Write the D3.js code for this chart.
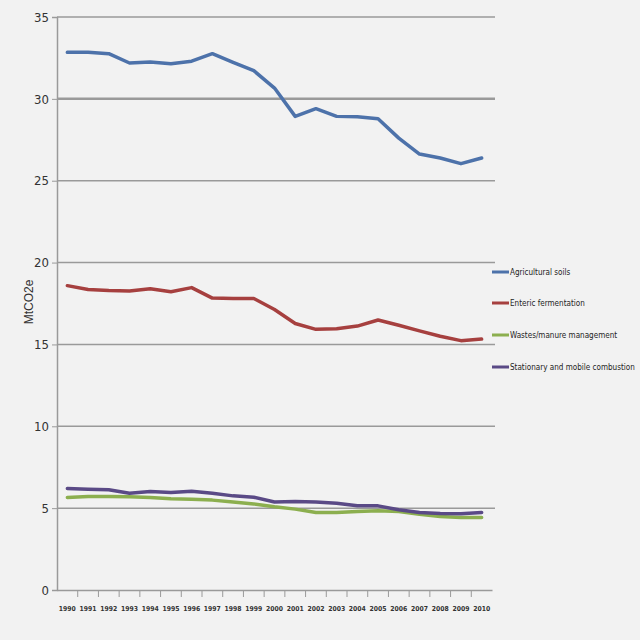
<!DOCTYPE html>
<html><head><meta charset="utf-8">
<script src="https://cdn.jsdelivr.net/npm/d3@7"></script>
<style>body{margin:0;background:#f2f2f2;}svg{display:block;}</style>
</head><body><div id="chart"></div>
<script>
const years = ["1990","1991","1992","1993","1994","1995","1996","1997","1998","1999","2000","2001","2002","2003","2004","2005","2006","2007","2008","2009","2010"];
const agriculturalSoils = [32.84,32.85,32.76,32.19,32.25,32.15,32.3,32.76,32.23,31.72,30.66,28.93,29.4,28.93,28.9,28.79,27.6,26.63,26.39,26.04,26.39];
const entericFermentation = [18.59,18.35,18.29,18.27,18.4,18.22,18.47,17.83,17.81,17.81,17.13,16.28,15.92,15.96,16.12,16.49,16.17,15.83,15.5,15.23,15.33];
const wastesManure = [5.65,5.71,5.71,5.69,5.65,5.57,5.55,5.49,5.38,5.26,5.08,4.94,4.74,4.74,4.8,4.84,4.8,4.63,4.49,4.43,4.43];
const combustion = [6.2,6.16,6.12,5.91,6.01,5.95,6.03,5.91,5.75,5.67,5.38,5.4,5.38,5.3,5.14,5.14,4.9,4.74,4.68,4.66,4.74];
const seriesNames = ["Agricultural soils","Enteric fermentation","Wastes/manure management","Stationary and mobile combustion"];
const seriesColors = ["#4d72aa","#a6403f","#8caf4f","#5a4a86"];
const yTicks = [0,5,10,15,20,25,30,35];
const yTitle = "MtCO2e";

const series = [agriculturalSoils, entericFermentation, wastesManure, combustion];
const W = 640, H = 640;
const svg = d3.select("#chart").append("svg").attr("width", W).attr("height", H);
svg.append("rect").attr("width", W).attr("height", H).attr("fill", "#f2f2f2");

const x = d3.scaleBand().domain(years).range([57, 492]);
const y = d3.scaleLinear().domain([0, 35]).range([590, 17]);
const font = "'Liberation Sans Narrow','DejaVu Sans Condensed','Liberation Sans',sans-serif";

// uniform font size so that the widest text of a selection fits maxW
function fitUniform(sel, maxW) {
  let widest = 0;
  sel.each(function () { widest = Math.max(widest, this.getComputedTextLength()); });
  if (widest > maxW) {
    const fs = parseFloat(sel.attr("font-size"));
    sel.attr("font-size", (fs * maxW / widest).toFixed(2));
  }
}

// gridlines
svg.append("g").selectAll("line").data(yTicks.filter(d => d > 0)).join("line")
  .attr("x1", 57).attr("x2", 495)
  .attr("y1", d => y(d)).attr("y2", d => y(d))
  .attr("stroke", "#9a9a9a").attr("stroke-width", d => d === 30 ? 2.5 : 1.5);

// y axis
const yAxis = svg.append("g").attr("transform", "translate(57,0)")
  .call(d3.axisLeft(y).tickValues(yTicks).tickSize(5).tickPadding(3));
yAxis.select(".domain").attr("stroke", "#9a9a9a").attr("stroke-width", 1.5);
yAxis.selectAll(".tick line").attr("stroke", "#9a9a9a");
yAxis.selectAll("text").attr("font-family", font).attr("font-size", 13).attr("fill", "#333");

// x axis
const xAxis = svg.append("g").attr("transform", "translate(0,590)")
  .call(d3.axisBottom(x).tickSize(0).tickPadding(16));
xAxis.select(".domain").attr("stroke", "#9a9a9a").attr("stroke-width", 1.5);
xAxis.selectAll("text").attr("font-family", font).attr("font-size", 10).attr("font-weight", "bold")
  .attr("fill", "#333");
fitUniform(xAxis.selectAll("text"), 17);
svg.append("g").selectAll("line").data(years.slice(1)).join("line")
  .attr("x1", d => x(d)).attr("x2", d => x(d)).attr("y1", 590).attr("y2", 597)
  .attr("stroke", "#9a9a9a").attr("stroke-width", 1);

// y title
svg.append("text").attr("transform", "translate(33,302) rotate(-90)")
  .attr("text-anchor", "middle").attr("font-family", "'Liberation Sans',sans-serif")
  .attr("font-size", 12).attr("fill", "#333").text(yTitle);

// lines
const line = d3.line().x((d, i) => x(years[i]) + x.bandwidth() / 2).y(d => y(d));
svg.append("g").selectAll("path").data(series).join("path")
  .attr("d", d => line(d)).attr("fill", "none")
  .attr("stroke", (d, i) => seriesColors[i]).attr("stroke-width", 3.5)
  .attr("stroke-linejoin", "round").attr("stroke-linecap", "round");

// legend
const legendY = [272, 303, 335, 367];
const lg = svg.append("g").selectAll("g").data(seriesNames).join("g")
  .attr("transform", (d, i) => `translate(492,${legendY[i]})`);
lg.append("line").attr("x1", 0).attr("x2", 17).attr("stroke", (d, i) => seriesColors[i]).attr("stroke-width", 3);
const lt = lg.append("text").attr("x", 18).attr("dy", "0.35em").attr("font-family", font).attr("font-size", 11)
  .attr("fill", "#222").text(d => d);
fitUniform(lt, 125);
</script></body></html>
